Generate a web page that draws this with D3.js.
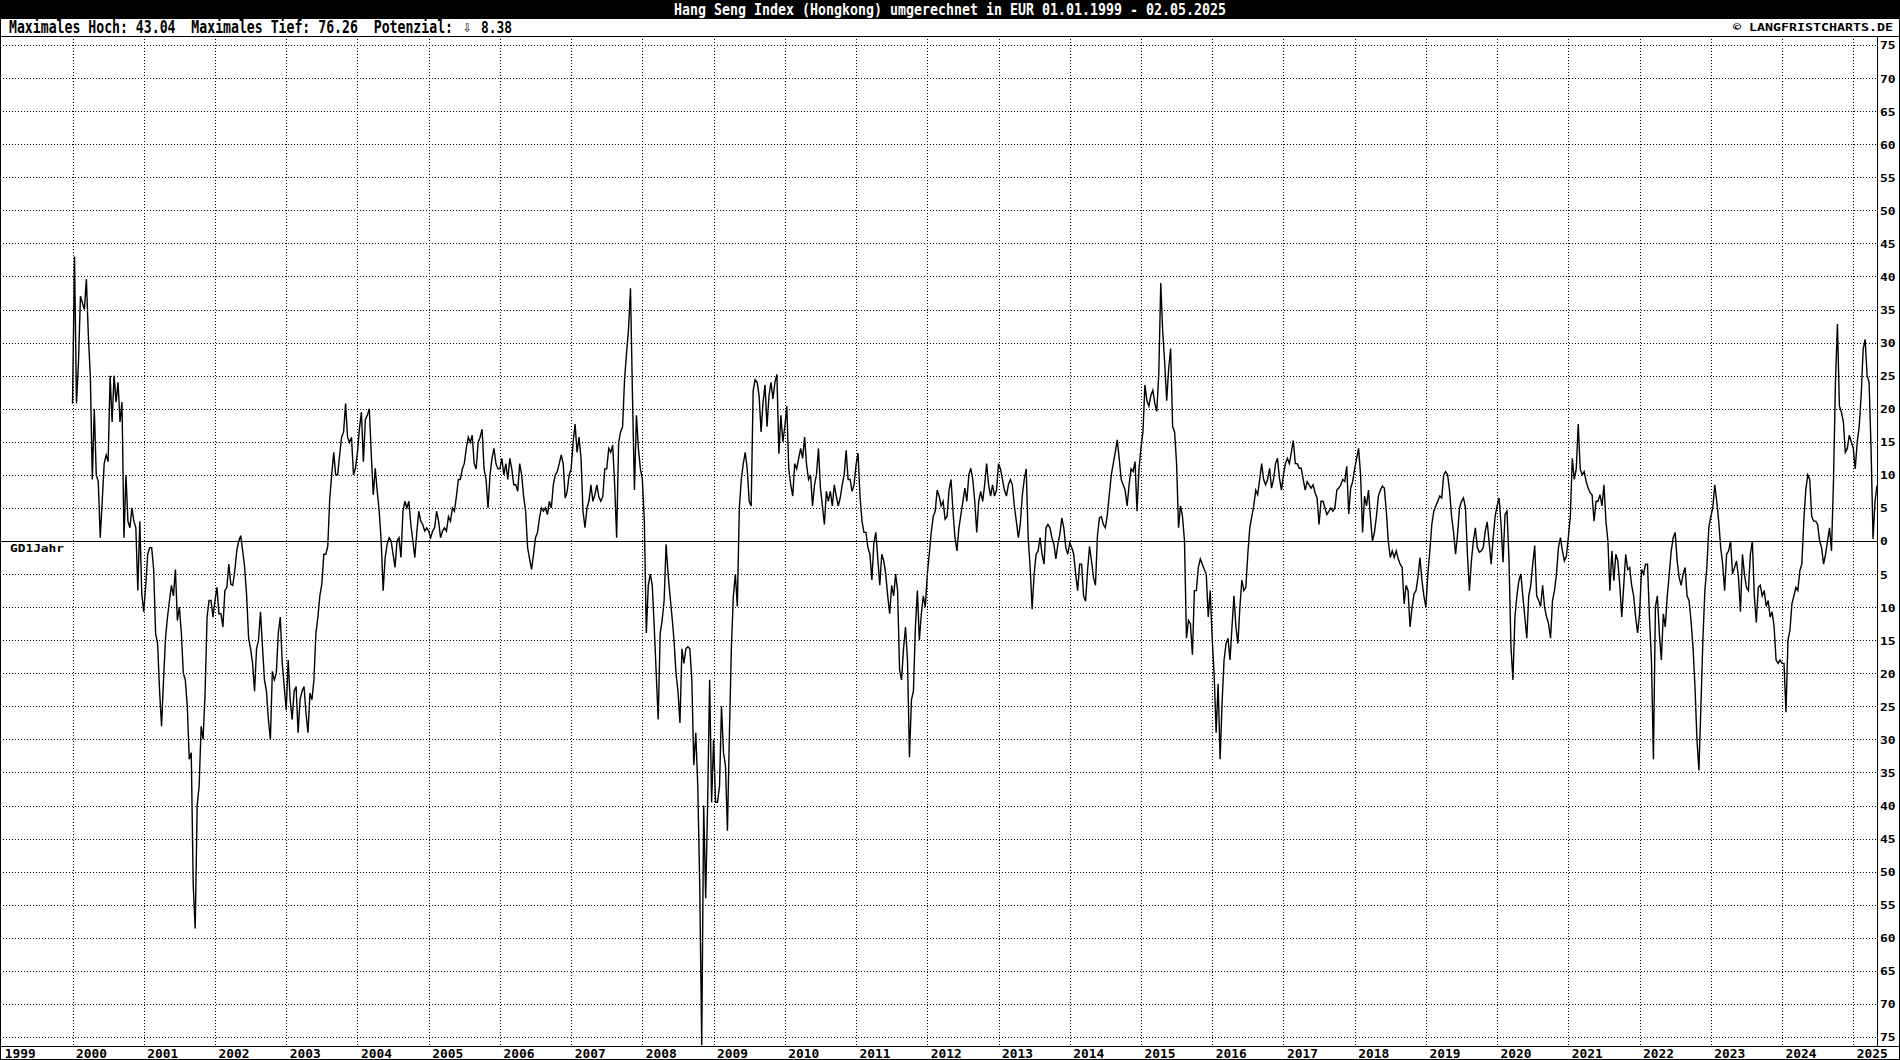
<!DOCTYPE html>
<html><head><meta charset="utf-8">
<script src="https://cdn.jsdelivr.net/npm/d3@7"></script>
<style>html,body{margin:0;padding:0;background:#fff;} svg{display:block;}</style>
</head><body>
<svg id="c" width="1900" height="1060"></svg>
<script>
// ---- texts ----
const titleText = "Hang Seng Index (Hongkong) umgerechnet in EUR 01.01.1999 - 02.05.2025";
const infoPre = "Maximales Hoch: 43.04  Maximales Tief: 76.26  Potenzial:";
const infoArrow = "\u21E9";
const infoPost = "8.38";
const copyText = "\u00A9 LANGFRISTCHARTS.DE";
const maLabel = "GD1Jahr";

// ---- tick labels ----
const yearTicks = [1999,2000,2001,2002,2003,2004,2005,2006,2007,2008,2009,2010,2011,2012,2013,2014,2015,2016,2017,2018,2019,2020,2021,2022,2023,2024,2025];
const yTicks = [-75,-70,-65,-60,-55,-50,-45,-40,-35,-30,-25,-20,-15,-10,-5,0,5,10,15,20,25,30,35,40,45,50,55,60,65,70,75];

// ---- series: % deviation from 1-year average, 36 readings per year ----
const seriesYears = [2000,2001,2002,2003,2004,2005,2006,2007,2008,2009,2010,2011,2012,2013,2014,2015,2016,2017,2018,2019,2020,2021,2022,2023,2024,2025];
const v2000 = [20.8,43.0,20.8,27,37,36,35,39.6,31,25,9.3,20,10,9,0.5,6,11.7,13,12,25,18,25,21,24,18,21,0.5,10,3,2,5,3,2,-7.5,3,-8];
const v2001 = [-10.7,-6.7,-2,-1,-1,-4.3,-14,-15.5,-22.7,-28,-21,-14.7,-11.5,-9,-6.7,-8.3,-4.3,-12,-10,-13.9,-20,-21,-25,-33,-32,-52,-58.6,-40,-37,-28,-30,-23,-11.5,-9,-9,-11.5];
const v2002 = [-9,-7,-11,-11,-13,-7.5,-7,-3.5,-6.5,-6.7,-4.5,-1.5,0,0.8,-1.5,-4,-8.3,-14.7,-16.3,-18.5,-22.7,-16.3,-15,-10.7,-16,-21,-22.7,-27,-30,-19.7,-21,-20,-13.9,-11.5,-18.5,-22];
const v2003 = [-25.6,-18,-24,-27,-22.7,-22,-29,-24,-22.7,-22,-26,-29,-23,-24,-21,-14,-11.5,-8.3,-6.5,-2,-2,-0.8,6.4,10,13.4,10,10,13,15.7,16.5,20.8,15.7,14.9,15.7,10,11];
const v2004 = [13.4,17,19.5,12,18.4,19,20,13,7,11,7.5,4.5,0,-7.5,-2.5,-0.5,0.5,0,-2,-4,0,0.5,-2.5,4.5,6,5,6,2.5,0,-2.5,1.3,4.5,3,2.5,1.5,2];
const v2005 = [1.5,0.5,1.5,2,4.5,3,0.5,1.5,2,1.5,3.7,3,5,4.5,6.7,9.3,9.3,10.9,11.7,14,15.7,14.9,16,11.7,10.9,14.9,15.7,16.9,10.9,9.3,5,10,12.5,14,11.7,10.9];
const v2006 = [10.9,12.5,10,11.7,9.3,12.5,10.9,8.5,8.5,7.5,11.7,10,6.7,4.5,-1,-2.7,-4.3,-2,0.5,1.3,3.5,5,4.5,5,4,6,5,8.5,10,10.5,11.7,13,11.7,6.5,7.5,10];
const v2007 = [10.9,14.9,17.7,13.4,15.7,12.5,4.5,2,5,6,8.5,6,7,8.5,6.7,6,6.7,10.9,10.9,14,13.4,14.5,8.5,0.5,14.9,16.5,17.3,24.4,28.4,32,38.2,22,7.7,19,14,10.9];
const v2008 = [9.3,3,-13.9,-6.7,-5,-6.7,-13,-20,-27,-14,-12,-9,-0.5,-5,-8.3,-11.5,-15,-20,-22.7,-27.5,-16.3,-18.5,-16.3,-16,-16.3,-21,-33.9,-29,-37,-52,-76.26,-40,-54,-39.5,-21,-39.5];
const v2009 = [-30,-39.5,-39.5,-37,-25,-32,-34,-43.8,-29,-16,-8.3,-5,-9.9,5,9.3,11.7,13.4,10.9,6,5.3,22.7,24.4,24,22,16.5,21,23.6,17.3,22,24,21.5,24,25.2,13.2,19,15];
const v2010 = [17.3,20.4,10.9,8.5,6.8,11.7,10.9,12.5,14,12.5,15.7,11.5,9.3,10,5.3,8.5,10,14,8,5.3,2.5,7.5,6,7.5,5.3,8.5,6.8,5.3,6.5,8.5,10,13.7,9.3,9.3,7.5,8.5];
const v2011 = [11.5,13.3,6.8,3,1.3,1.3,-1,-2,-5.9,-0.3,1.3,-2.7,-6.7,-2,-3,-5,-8.3,-11,-6.7,-8.3,-5,-7.5,-19.5,-21,-16.3,-13,-18,-32.7,-24,-22.7,-13,-7.5,-15,-11,-8.3,-10];
const v2012 = [-5.1,-2,1.3,3.7,4.5,7.7,6.8,5.3,6,3.3,3.7,7.7,9.3,4.5,0.5,-1.5,2,4,6,8,6,10,11,9.3,6,1.3,6,7.5,6,8.5,11.7,8.5,6.8,8.5,6.8,7.7];
const v2013 = [11.7,10.9,9.3,7.7,6.8,8.5,9.3,8.5,5.3,3,0.5,2.5,6.8,9.3,10.9,0.5,-4,-10.3,-5,-2,-1.5,0.5,-2,-3.5,2,2.5,2,0.5,-0.5,-2.7,-0.5,1,3.5,2,-1,-2];
const v2014 = [-0.3,-1,-2,-5,-7.5,-3.5,-3.5,-8.3,-9.1,-4.5,-0.8,-3,-5.5,-6.7,0.8,3.5,3.7,2.5,2,4,7,10,11.7,13.4,15.3,12.5,9.3,8.5,7.7,5.3,8.5,10.9,10.5,12,4.5,10.9];
const v2015 = [14,16.5,23.6,21.2,20.4,22,22.8,20.8,19.6,25.2,39,31.6,27,21.2,26,29.1,17.3,16.5,11.7,2,5.3,3.7,0,-14.7,-12,-12.5,-17.2,-7.5,-7.5,-4,-2.7,-3.5,-4.3,-5,-11.5,-7.5];
const v2016 = [-14.7,-20.3,-29,-21.6,-33,-24.4,-18,-15.5,-14.7,-18,-13,-8.3,-13,-15.5,-10,-5.9,-7.5,-7,-2,2,3.7,5.3,7.7,7,9.3,11.7,9.3,8.5,9.3,11,8,9.3,11.7,12.5,9.5,7.7];
const v2017 = [10,11.7,12.5,11.7,13.4,15.2,11.7,11.7,11,11,9.3,7.7,9,8.5,8,8.5,7.3,6.5,2.5,6,6,5,4,4.5,5,4.5,5,7.7,8,8.5,9.3,9,11.3,4.1,8,9];
const v2018 = [10.9,12.5,14,10,1.3,6.8,5.3,7.7,3.5,0,1.3,3.7,6.8,7.7,8.3,8,4.5,0,-2.5,-1.5,-2.5,-1.5,-2.7,-3.5,-4,-9.5,-6.7,-7.5,-13,-10,-8,-7.5,-5.5,-2.5,-6,-8.3];
const v2019 = [-10,-5,-1.5,2.5,4.5,5.3,6,6.8,6.5,10,10.5,10,7.5,3.7,1.3,-2,1,5,6,6.5,5,-2,-7.5,-3,0,2,-1,-1.7,-1.5,-1,1.5,2.9,-0.3,-3.5,0.5,3.7];
const v2020 = [5.3,6.5,2.5,-3.2,4,4.5,-2.7,-16,-21,-11.5,-8.3,-6,-5,-8.3,-11.5,-14.7,-8.3,-6.7,-3.5,-0.7,-8.3,-9,-9.9,-6.7,-10,-11.5,-12.5,-14.7,-9,-7.5,-5,-1,0.5,-1.5,-3,-2.3];
const v2021 = [0.5,3.7,12.5,9.3,10.9,17.7,10.9,10,10.5,9,8,7.3,7,3,6,6,7,5.3,8.5,3,0,-7.5,-1.5,-6,-2,-3,-6.7,-11.5,-6.7,-2,-4.3,-4,-6.7,-8.3,-11.5,-13.9];
const v2022 = [-11,-4.3,-5,-3.5,-3.5,-11.5,-18,-33,-10,-8.3,-14,-18,-11,-13,-8.3,-5,-1.5,0.5,1.3,-3,-5.5,-6.7,-5,-4,-8.3,-9,-12,-16,-22,-30,-34.7,-25,-15,-7.5,-4,2];
const v2023 = [3.7,5,8.5,6,3,-1,-3.5,-7.5,-2,-1.5,0,-5,-4,-3,-5.5,-10.7,-2,-5,-7,-7.5,-2,0,-8.3,-12.3,-7,-6.7,-8.3,-7.5,-9.9,-9,-11.5,-10.7,-13,-18,-18.5,-18];
const v2024 = [-18.5,-18.5,-25.9,-15,-13.5,-9.5,-8.3,-7,-7.5,-4.5,-3.5,3,7.7,10,9.3,3.7,3,3,2.5,0,-1,-3.5,-2,0,2,-1.5,9,24,32.8,20.4,19.5,18,13.4,14,16,15];
const v2025 = [14,10.9,15,17.3,22,29,30.5,25,24,14,0.3,6,8.38];
const seriesValues = [v2000,v2001,v2002,v2003,v2004,v2005,v2006,v2007,v2008,v2009,v2010,v2011,v2012,v2013,v2014,v2015,v2016,v2017,v2018,v2019,v2020,v2021,v2022,v2023,v2024,v2025];
const perYear = 36;

const data = [];
seriesYears.forEach((yr, j) => seriesValues[j].forEach((v, i) => data.push({t: yr + i / perYear, v})));

// ---- layout ----
const W = 1900, H = 1060;
const plotL = 0, plotR = 1877, plotT = 36, plotB = 1046;
const svg = d3.select("#c");
const mono = "'DejaVu Sans Mono', 'Liberation Mono', monospace";

const x = d3.scaleLinear().domain([1999, 2025 + 12 / perYear]).range([1.3, plotR]);
const y = d3.scaleLinear().domain([-75, 75]).range([1037, 45]);

svg.append("rect").attr("width", W).attr("height", H).attr("fill", "#fff");

// title bar (tall, narrow lettering via vertical scale)
svg.append("rect").attr("x", 0).attr("y", 0).attr("width", W).attr("height", 18).attr("fill", "#000");
svg.append("text").attr("transform", "translate(950,14.5) scale(1,1.2)").attr("text-anchor", "middle")
  .attr("fill", "#fff").attr("font-family", mono).attr("font-size", 13.2).attr("font-weight", "bold")
  .attr("textLength", 552).attr("lengthAdjust", "spacingAndGlyphs")
  .style("white-space", "pre").text(titleText);

// info line (three separate texts, natural widths match their slots)
svg.append("text").attr("transform", "translate(9,33) scale(1,1.28)").attr("fill", "#000")
  .attr("font-family", mono).attr("font-size", 13.1).attr("font-weight", "bold")
  .attr("textLength", 444).attr("lengthAdjust", "spacingAndGlyphs")
  .style("white-space", "pre").text(infoPre);
svg.append("text").attr("x", 463).attr("y", 32).attr("fill", "#000")
  .attr("font-family", "'DejaVu Sans', sans-serif").attr("font-size", 12)
  .attr("textLength", 9).attr("lengthAdjust", "spacingAndGlyphs").text(infoArrow);
svg.append("text").attr("transform", "translate(481,33) scale(1,1.28)").attr("fill", "#000")
  .attr("font-family", mono).attr("font-size", 12.8).attr("font-weight", "bold")
  .attr("textLength", 31).attr("lengthAdjust", "spacingAndGlyphs").text(infoPost);

svg.append("text").attr("x", 1893).attr("y", 31).attr("text-anchor", "end").attr("fill", "#000")
  .attr("font-family", mono).attr("font-size", 11).attr("font-weight", "bold")
  .attr("textLength", 160).attr("lengthAdjust", "spacingAndGlyphs")
  .text(copyText);

// grid
const grid = svg.append("g").attr("stroke", "#000").attr("stroke-width", 1).attr("stroke-dasharray", "1,2");
grid.selectAll("line.h").data(yTicks.filter(d => d !== 0)).join("line")
  .attr("x1", plotL).attr("x2", plotR)
  .attr("y1", d => Math.round(y(d)) + 0.5).attr("y2", d => Math.round(y(d)) + 0.5);
grid.selectAll("line.v").data(yearTicks.filter(d => d > 1999)).join("line")
  .attr("x1", d => Math.round(x(d)) + 0.5).attr("x2", d => Math.round(x(d)) + 0.5)
  .attr("y1", plotT).attr("y2", plotB);

// zero (1-year average) line
svg.append("line").attr("x1", plotL).attr("x2", plotR)
  .attr("y1", Math.round(y(0)) + 0.5).attr("y2", Math.round(y(0)) + 0.5)
  .attr("stroke", "#000").attr("stroke-width", 1);
svg.append("text").attr("x", 10).attr("y", Math.round(y(0)) + 11)
  .attr("font-family", mono).attr("font-size", 11).attr("font-weight", "bold")
  .attr("textLength", 54).attr("lengthAdjust", "spacingAndGlyphs").text(maLabel);

// frames
const fr = svg.append("g").attr("stroke", "#000").attr("stroke-width", 1).attr("fill", "none");
fr.append("rect").attr("x", 0.5).attr("y", 18.5).attr("width", W - 1).attr("height", H - 19);
fr.append("line").attr("x1", 0).attr("x2", W).attr("y1", plotT + 0.5).attr("y2", plotT + 0.5);
fr.append("line").attr("x1", 0).attr("x2", W).attr("y1", plotB + 0.5).attr("y2", plotB + 0.5);
fr.append("line").attr("x1", plotR + 0.5).attr("x2", plotR + 0.5).attr("y1", plotT).attr("y2", plotB);

// right axis
const yAxis = d3.axisRight(y).tickValues(yTicks).tickFormat(d => String(Math.abs(d))).tickSize(0).tickPadding(0);
const ya = svg.append("g").attr("transform", `translate(${plotR + 3},0)`).call(yAxis);
ya.select(".domain").remove();
ya.selectAll("text").attr("font-family", mono).attr("font-size", 11).attr("font-weight", "bold")
  .attr("fill", "#000").attr("dy", "0.36em")
  .attr("textLength", d => String(Math.abs(d)).length * 7.8).attr("lengthAdjust", "spacingAndGlyphs");

// bottom axis
const xAxis = d3.axisBottom(x).tickValues(yearTicks).tickFormat(d => String(d)).tickSize(0).tickPadding(0);
const xa = svg.append("g").attr("transform", `translate(0,${plotB})`).call(xAxis);
xa.select(".domain").remove();
xa.selectAll("text").attr("font-family", mono).attr("font-size", 12).attr("font-weight", "bold")
  .attr("fill", "#000").attr("text-anchor", "start").attr("dx", 3).attr("y", 11.5).attr("dy", 0)
  .attr("textLength", 31).attr("lengthAdjust", "spacingAndGlyphs");

// data line
svg.append("clipPath").attr("id", "pc").append("rect")
  .attr("x", plotL).attr("y", plotT).attr("width", plotR - plotL).attr("height", plotB - plotT);
const line = d3.line().x(d => x(d.t)).y(d => y(d.v));
svg.append("path").datum(data).attr("clip-path", "url(#pc)")
  .attr("fill", "none").attr("stroke", "#000").attr("stroke-width", 1.4)
  .attr("stroke-linejoin", "miter").attr("d", line);
</script>
</body></html>
